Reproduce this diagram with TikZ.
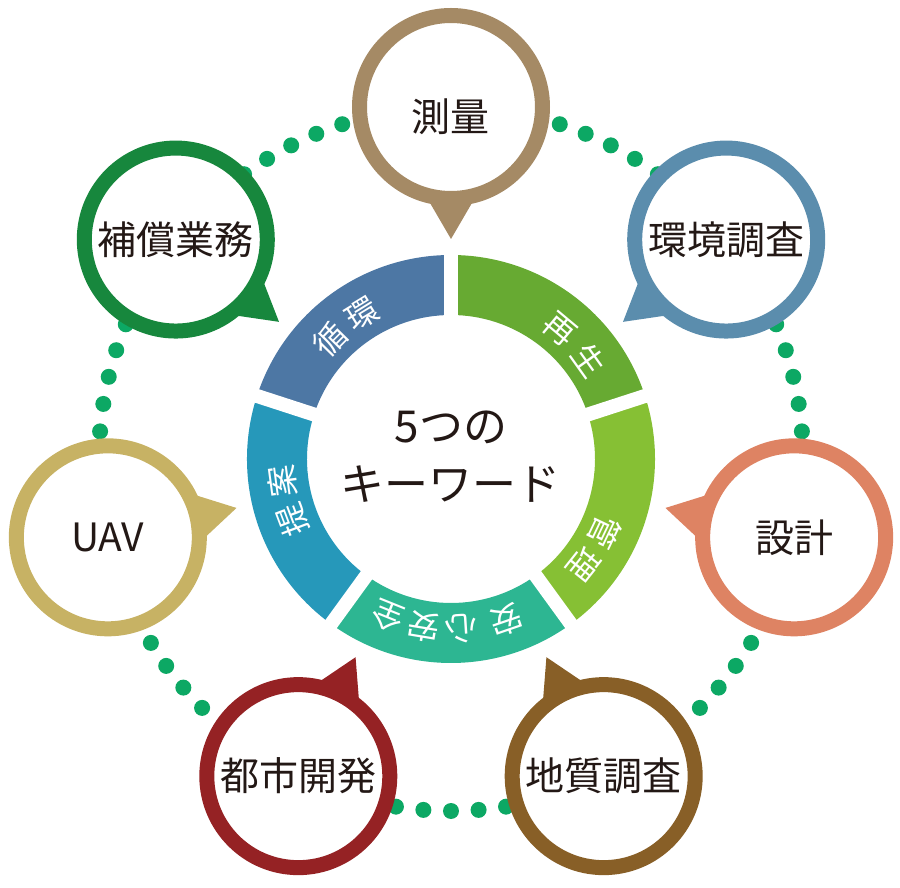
\documentclass[tikz,border=0pt]{standalone}
\usepackage{fontspec}
\setmainfont{Noto Sans CJK JP}
\definecolor{dotgreen}{HTML}{0CA864}
\definecolor{inkblack}{HTML}{231815}
\definecolor{bubbletan}{HTML}{A58A65}
\definecolor{bubblesteel}{HTML}{5B8DAD}
\definecolor{bubblesalmon}{HTML}{DE8363}
\definecolor{bubblebrown}{HTML}{885F27}
\definecolor{bubblered}{HTML}{952224}
\definecolor{bubblegold}{HTML}{C7B264}
\definecolor{bubblegreen}{HTML}{17873D}
\definecolor{segblue}{HTML}{4D77A4}
\definecolor{seggreen}{HTML}{67AA32}
\definecolor{seglime}{HTML}{86C034}
\definecolor{segteal}{HTML}{2DB692}
\definecolor{segcyan}{HTML}{2698BA}
\tikzstyle{bubble}=[line width=15pt, fill=white]
\tikzstyle{gap}=[line width=14pt, white]
\tikzstyle{word}=[text=inkblack, inner sep=0pt, font=\fontsize{39}{47}\selectfont]
\tikzstyle{segword}=[text=white, inner sep=0pt, font=\fontsize{32}{38}\selectfont]
\tikzstyle{keyword}=[text=inkblack, inner sep=0pt, align=center, font=\fontsize{44}{58}\selectfont]

\begin{document}
\begin{tikzpicture}[x=1pt, y=1pt]
\useasboundingbox (-451,-429) rectangle (449,459);
% Dots
    \fill[dotgreen] (72:352) circle(8);
    \fill[dotgreen] (67.5:352) circle(8);
    \fill[dotgreen] (63:352) circle(8);
    \fill[dotgreen] (58.5:352) circle(8);
    \fill[dotgreen] (54:352) circle(8);
    \fill[dotgreen] (22.5:352) circle(8);
    \fill[dotgreen] (18:352) circle(8);
    \fill[dotgreen] (13.5:352) circle(8);
    \fill[dotgreen] (9:352) circle(8);
    \fill[dotgreen] (4.5:352) circle(8);
    \fill[dotgreen] (-31.5:352) circle(8);
    \fill[dotgreen] (-36:352) circle(8);
    \fill[dotgreen] (-40.5:352) circle(8);
    \fill[dotgreen] (-45:352) circle(8);
    \fill[dotgreen] (-49.5:352) circle(8);
    \fill[dotgreen] (-81:352) circle(8);
    \fill[dotgreen] (-85.5:352) circle(8);
    \fill[dotgreen] (-90:352) circle(8);
    \fill[dotgreen] (-94.5:352) circle(8);
    \fill[dotgreen] (-99:352) circle(8);
    \fill[dotgreen] (-130.5:352) circle(8);
    \fill[dotgreen] (-135:352) circle(8);
    \fill[dotgreen] (-139.5:352) circle(8);
    \fill[dotgreen] (-144:352) circle(8);
    \fill[dotgreen] (-148.5:352) circle(8);
    \fill[dotgreen] (157.5:352) circle(8);
    \fill[dotgreen] (162:352) circle(8);
    \fill[dotgreen] (166.5:352) circle(8);
    \fill[dotgreen] (171:352) circle(8);
    \fill[dotgreen] (175.5:352) circle(8);
    \fill[dotgreen] (126:352) circle(8);
    \fill[dotgreen] (121.5:352) circle(8);
    \fill[dotgreen] (117:352) circle(8);
    \fill[dotgreen] (112.5:352) circle(8);
    \fill[dotgreen] (108:352) circle(8);
% Ring
    \fill[segblue] (90:204) arc[start angle=90, end angle=162, radius=204] -- (162:144) arc[start angle=162, end angle=90, radius=144] -- cycle;
    \fill[segcyan] (162:204) arc[start angle=162, end angle=234, radius=204] -- (234:144) arc[start angle=234, end angle=162, radius=144] -- cycle;
    \fill[segteal] (234:204) arc[start angle=234, end angle=306, radius=204] -- (306:144) arc[start angle=306, end angle=234, radius=144] -- cycle;
    \fill[seglime] (-54:204) arc[start angle=-54, end angle=18, radius=204] -- (18:144) arc[start angle=18, end angle=-54, radius=144] -- cycle;
    \fill[seggreen] (18:204) arc[start angle=18, end angle=90, radius=204] -- (90:144) arc[start angle=90, end angle=18, radius=144] -- cycle;
% Gaps
    \draw[gap] (90:138) -- (90:210);
    \draw[gap] (162:138) -- (162:210);
    \draw[gap] (234:138) -- (234:210);
    \draw[gap] (306:138) -- (306:210);
    \draw[gap] (18:138) -- (18:210);
% Ring words
    \node[segword, rotate=45.5] (junkanA) at (135.5:170) {循};
    \node[segword, rotate=31.5] (junkanB) at (121.5:170) {環};
    \node[segword, rotate=-40] (saiseiA) at (50:170) {再};
    \node[segword, rotate=-54.5] (saiseiB) at (35.5:170) {生};
    \node[segword, rotate=-115.5] (kanriA) at (-25.5:170) {管};
    \node[segword, rotate=-128.5] (kanriB) at (-38.5:170) {理};
    \node[segword, rotate=-161] (anshinA) at (-71:170) {安};
    \node[segword, rotate=-176.4] (anshinB) at (-86.4:170) {心};
    \node[segword, rotate=-189.4] (anshinC) at (-99.4:170) {安};
    \node[segword, rotate=-201.9] (anshinD) at (-111.9:170) {全};
    \node[segword, rotate=110.8] (teianA) at (200.8:170) {提};
    \node[segword, rotate=97.6] (teianB) at (187.6:170) {案};
% Centre
    \node[keyword] (centre) at (0,2) {5つの\\キーワード};
% Tails
    \fill[bubbletan] (90:220) -- (97.1:282) -- (82.9:282) -- cycle;
    \fill[bubblesteel] (38.57:220) -- (45.67:282) -- (31.47:282) -- cycle;
    \fill[bubblesalmon] (-12.86:220) -- (-5.76:282) -- (-19.96:282) -- cycle;
    \fill[bubblebrown] (-64.29:220) -- (-57.19:282) -- (-71.39:282) -- cycle;
    \fill[bubblered] (-115.71:220) -- (-108.61:282) -- (-122.81:282) -- cycle;
    \fill[bubblegold] (-167.14:220) -- (-160.04:282) -- (-174.24:282) -- cycle;
    \fill[bubblegreen] (141.43:220) -- (148.53:282) -- (134.33:282) -- cycle;
% Bubbles
    \draw[bubbletan, bubble] (90:352) circle(91.5);
    \draw[bubblesteel, bubble] (38.57:352) circle(91.5);
    \draw[bubblesalmon, bubble] (-12.86:352) circle(91.5);
    \draw[bubblebrown, bubble] (-64.29:352) circle(91.5);
    \draw[bubblered, bubble] (-115.71:352) circle(91.5);
    \draw[bubblegold, bubble] (-167.14:352) circle(91.5);
    \draw[bubblegreen, bubble] (141.43:352) circle(91.5);
% Bubble words
    \node[word] (sokuryo) at (0,342) {測量};
    \node[word] (kankyo) at (38.57:352) {環境調査};
    \node[word] (sekkei) at (-12.86:352) {設計};
    \node[word] (chishitsu) at (-64.29:352) {地質調査};
    \node[word] (toshi) at (-115.71:352) {都市開発};
    \node[word] (uav) at (-167.14:352) {UAV};
    \node[word] (hosho) at (141.43:352) {補償業務};
\end{tikzpicture}
\end{document}
